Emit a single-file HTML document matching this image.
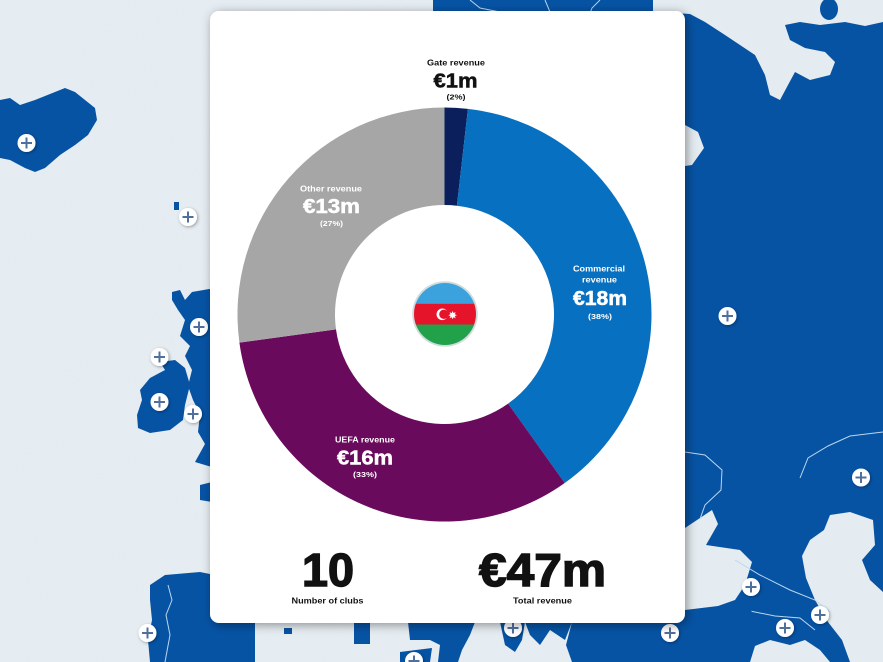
<!DOCTYPE html>
<html><head><meta charset="utf-8"><style>
html,body{margin:0;padding:0;background:#e4ecf1;}
svg{display:block;}
text{font-family:"Liberation Sans",Arial,sans-serif;font-weight:bold;}
</style></head><body>
<svg width="883" height="662" viewBox="0 0 883 662" xmlns="http://www.w3.org/2000/svg">
<defs>
<filter id="sh" x="-10%" y="-10%" width="120%" height="120%"><feDropShadow dx="2" dy="2" stdDeviation="5" flood-color="#000" flood-opacity="0.4"/></filter>
<filter id="ps" x="-50%" y="-50%" width="200%" height="200%"><feDropShadow dx="1" dy="1" stdDeviation="1.5" flood-color="#000" flood-opacity="0.35"/></filter>
<filter id="noise" x="0" y="0" width="100%" height="100%"><feTurbulence type="fractalNoise" baseFrequency="0.9" numOctaves="2" seed="3"/><feColorMatrix type="matrix" values="0 0 0 0 1  0 0 0 0 1  0 0 0 0 1  0 0 0 0.35 0"/></filter>
<clipPath id="fc"><circle cx="445" cy="314" r="31"/></clipPath>
<g id="plus"><circle r="9" fill="#fff" filter="url(#ps)"/><path d="M-5.5 0H5.5M0 -5.5V5.5" stroke="#4f6f9c" stroke-width="2"/></g>
</defs>
<rect width="883" height="662" fill="#e2eaf0"/>
<rect width="883" height="662" filter="url(#noise)" opacity="0.6"/>
<!-- Right side land -->
<rect x="650" y="0" width="233" height="662" fill="#0653a4"/>
<polygon fill="#e4ecf1" points="640,0 883,0 883,22 865,26 845,22 820,25 800,22 785,25 790,40 805,48 825,52 835,62 830,75 810,80 795,72 788,85 780,100 770,95 765,75 755,55 740,45 725,35 705,22 690,14 660,12 640,12"/>
<ellipse cx="829" cy="9" rx="9" ry="11" fill="#0653a4"/>
<polygon fill="#e4ecf1" points="685,125 698,132 704,148 692,165 685,166"/>
<!-- Black Sea -->
<polygon fill="#e4ecf1" points="685,528 700,518 712,510 718,524 706,545 740,550 752,562 745,585 735,600 718,606 685,610"/>
<!-- Caspian -->
<polygon fill="#e4ecf1" points="830,515 850,512 873,520 875,545 862,560 870,580 883,592 883,662 850,662 842,640 828,622 815,600 806,578 802,556 810,540 824,530"/>
<polygon fill="#e4ecf1" points="750,648 770,640 790,645 805,640 820,650 830,662 750,662"/>
<!-- border lines right -->
<polyline fill="none" stroke="#bcd6ee" stroke-width="1" points="685,452 705,455 722,470 721,490 705,505 700,519"/>
<polyline fill="none" stroke="#bcd6ee" stroke-width="1" points="800,478 808,458 828,446 850,436 883,432"/>
<polyline fill="none" stroke="#bcd6ee" stroke-width="1" points="735,560 760,575 790,590 815,600 830,612"/>
<polyline fill="none" stroke="#bcd6ee" stroke-width="1" points="745,610 775,616 800,618 815,630"/>
<!-- top strip land -->
<rect x="433" y="0" width="220" height="14" fill="#0653a4"/>
<polyline fill="none" stroke="#bcd6ee" stroke-width="1" points="470,0 480,8 500,12"/>
<polyline fill="none" stroke="#bcd6ee" stroke-width="1" points="545,0 550,12"/>
<polyline fill="none" stroke="#bcd6ee" stroke-width="1" points="600,0 592,8 590,13"/>
<!-- Iceland -->
<polygon fill="#0653a4" points="0,100 10,98 20,105 35,100 55,92 65,88 75,92 85,100 95,108 97,120 88,135 75,145 60,155 45,168 35,172 25,168 10,160 0,158"/>
<rect x="174" y="202" width="5" height="8" fill="#0653a4"/>
<!-- Great Britain -->
<polygon fill="#0653a4" points="172,292 180,290 185,300 192,292 215,288 215,468 195,462 205,444 198,432 200,414 193,400 188,386 192,370 185,356 190,346 180,336 185,320 178,310 172,300"/>
<!-- Ireland -->
<polygon fill="#0653a4" points="150,378 165,370 160,362 175,360 185,368 190,385 185,405 183,420 170,430 150,433 138,428 137,415 142,400 140,390"/>
<polygon fill="#0653a4" points="200,485 212,482 212,502 200,500"/>
<!-- Iberia -->
<polygon fill="#0653a4" points="150,585 165,575 200,572 215,575 255,620 255,662 150,662 148,640 152,620 150,600"/>
<polyline fill="none" stroke="#bcd6ee" stroke-width="1" points="168,585 172,600 166,615 170,635 165,662"/>
<!-- bottom mediterranean area -->
<rect x="354" y="622" width="16" height="22" fill="#0653a4"/>
<rect x="284" y="628" width="8" height="6" fill="#0653a4"/>
<polygon fill="#0653a4" points="408,622 475,622 470,635 462,650 458,662 438,662 440,645 430,640 410,640"/>
<polygon fill="#0653a4" points="400,652 432,648 430,662 400,662"/>
<polygon fill="#0653a4" points="500,622 525,622 522,640 515,652 505,645"/>
<polygon fill="#0653a4" points="525,622 572,622 565,640 550,630 540,645 530,635"/>
<polygon fill="#0653a4" points="572,622 685,614 750,608 760,630 750,662 572,662 566,645"/>
<!-- plus icons -->
<use href="#plus" x="26.5" y="143"/>
<use href="#plus" x="188" y="217"/>
<use href="#plus" x="199" y="327"/>
<use href="#plus" x="159.5" y="357"/>
<use href="#plus" x="159.5" y="402"/>
<use href="#plus" x="193" y="414"/>
<use href="#plus" x="147.5" y="633"/>
<use href="#plus" x="727.5" y="316"/>
<use href="#plus" x="861" y="477.5"/>
<use href="#plus" x="751" y="587"/>
<use href="#plus" x="820" y="615"/>
<use href="#plus" x="785" y="628"/>
<use href="#plus" x="513" y="628"/>
<use href="#plus" x="670" y="633"/>
<use href="#plus" x="414" y="661"/>
<!-- Card -->
<rect x="210" y="11" width="475" height="612" rx="9" ry="9" fill="#fff" filter="url(#sh)"/>
<!-- Donut -->
<path d="M444.5,107.5 A207,207 0 0 1 467.93,108.83 L456.90,205.70 A109.5,109.5 0 0 0 444.5,205 Z" fill="#0b1f5c"/>
<path d="M467.93,108.83 A207,207 0 0 1 564.71,483.02 L508.09,403.65 A109.5,109.5 0 0 0 456.90,205.70 Z" fill="#0870c0"/>
<path d="M564.71,483.02 A207,207 0 0 1 239.41,342.59 L336.01,329.36 A109.5,109.5 0 0 0 508.09,403.65 Z" fill="#6a0a5c"/>
<path d="M239.41,342.59 A207,207 0 0 1 444.5,107.5 L444.5,205 A109.5,109.5 0 0 0 336.01,329.36 Z" fill="#a6a6a6"/>
<!-- Flag -->
<circle cx="445" cy="314" r="32.8" fill="#cfdcdc"/>
<g clip-path="url(#fc)">
<rect x="410" y="280" width="70" height="24" fill="#3ba2dd"/>
<rect x="410" y="303.8" width="70" height="20.8" fill="#e6142b"/>
<rect x="410" y="324.5" width="70" height="24" fill="#21a14a"/>
</g>
<circle cx="442.3" cy="314.3" r="5.8" fill="#fff"/>
<circle cx="443.9" cy="314.3" r="4.7" fill="#e6142b"/>
<polygon fill="#fff" points="452.6,310.9 453.5,313 455.7,312.2 454.8,314.3 456.9,315.2 454.8,316 455.7,318.2 453.5,317.3 452.6,319.4 451.8,317.3 449.6,318.2 450.5,316 448.3,315.2 450.5,314.3 449.6,312.2 451.8,313"/>
<!-- Labels -->
<g fill="#111" text-anchor="middle">
<text x="456" y="65.5" font-size="8.5" textLength="58" lengthAdjust="spacingAndGlyphs">Gate revenue</text>
<text x="455.5" y="87.5" font-size="20.5" textLength="44" lengthAdjust="spacingAndGlyphs" stroke="#111" stroke-width="0.5">€1m</text>
<text x="456" y="99.5" font-size="7.5" textLength="19" lengthAdjust="spacingAndGlyphs">(2%)</text>
</g>
<g fill="#fff" text-anchor="middle">
<text x="331" y="191.5" font-size="8.5" textLength="62" lengthAdjust="spacingAndGlyphs">Other revenue</text>
<text x="331.5" y="213" font-size="20" textLength="57" lengthAdjust="spacingAndGlyphs" stroke="#fff" stroke-width="0.5">€13m</text>
<text x="331.5" y="226" font-size="7.5" textLength="23" lengthAdjust="spacingAndGlyphs">(27%)</text>
<text x="599" y="271.5" font-size="8.5" textLength="52" lengthAdjust="spacingAndGlyphs">Commercial</text>
<text x="599.5" y="282.5" font-size="8.5" textLength="35" lengthAdjust="spacingAndGlyphs">revenue</text>
<text x="600" y="305" font-size="20" textLength="54" lengthAdjust="spacingAndGlyphs" stroke="#fff" stroke-width="0.5">€18m</text>
<text x="600" y="319" font-size="7.5" textLength="24" lengthAdjust="spacingAndGlyphs">(38%)</text>
<text x="365" y="442.5" font-size="8.5" textLength="60" lengthAdjust="spacingAndGlyphs">UEFA revenue</text>
<text x="365" y="464.5" font-size="20" textLength="56" lengthAdjust="spacingAndGlyphs" stroke="#fff" stroke-width="0.5">€16m</text>
<text x="365" y="477" font-size="7.5" textLength="24" lengthAdjust="spacingAndGlyphs">(33%)</text>
</g>
<g fill="#111" text-anchor="middle">
<text x="328" y="586" font-size="46" textLength="52" lengthAdjust="spacingAndGlyphs" stroke="#111" stroke-width="1.4">10</text>
<text x="542.5" y="586" font-size="46" textLength="127" lengthAdjust="spacingAndGlyphs" stroke="#111" stroke-width="1.4">€47m</text>
<text x="327.5" y="603.5" font-size="8.5" textLength="72" lengthAdjust="spacingAndGlyphs">Number of clubs</text>
<text x="542.5" y="603.5" font-size="8.5" textLength="59" lengthAdjust="spacingAndGlyphs">Total revenue</text>
</g>
</svg>
</body></html>
